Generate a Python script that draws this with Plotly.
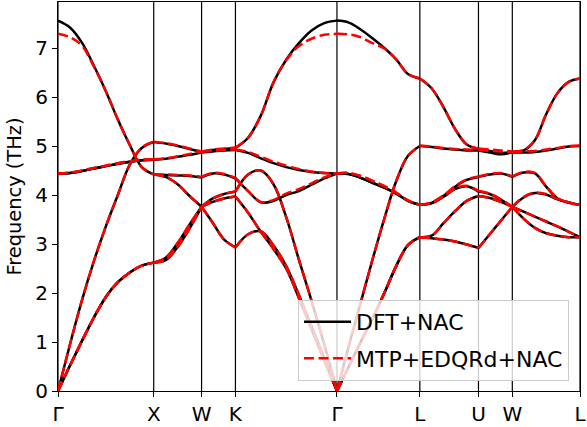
import numpy as np
import plotly.graph_objects as go

# ---------------- path description ----------------
tick_labels = ["Γ", "X", "W", "K", "Γ", "L", "U", "W", "L"]
seg_len = [1.0, 0.5, 0.35355, 1.06066, 0.86603, 0.61237, 0.35355, 0.70711]

# ---------------- DFT+NAC bands (THz), per segment, each band sampled evenly ----------------
GX_dft = [
    [0, 0.52, 1.02, 1.50, 1.92, 2.22, 2.42, 2.56, 2.62],
    [0, 0.52, 1.02, 1.50, 1.92, 2.22, 2.42, 2.56, 2.62],
    [0, 0.95, 1.85, 2.65, 3.36, 4.00, 4.62, 4.96, 5.08],
    [4.44, 4.45, 4.49, 4.54, 4.59, 4.64, 4.68, 4.71, 4.72],
    [4.44, 4.45, 4.49, 4.54, 4.59, 4.64, 4.68, 4.71, 4.72],
    [7.56, 7.42, 7.11, 6.64, 6.12, 5.54, 5.02, 4.57, 4.42],
]
XW_dft = [
    [2.62, 2.72, 3.02, 3.40, 3.76],
    [2.62, 2.67, 2.94, 3.32, 3.76],
    [4.42, 4.37, 4.22, 3.98, 3.76],
    [4.42, 4.41, 4.40, 4.39, 4.36],
    [4.72, 4.74, 4.78, 4.82, 4.87],
    [5.08, 5.05, 5.00, 4.94, 4.88],
]
WK_dft = [
    [4.88, 4.92, 4.94, 4.96],
    [4.87, 4.89, 4.91, 4.92],
    [4.36, 4.44, 4.42, 4.34],
    [3.76, 3.93, 4.02, 4.07],
    [3.76, 3.86, 3.93, 3.97],
    [3.76, 3.43, 3.09, 2.93],
]
KG_dft = [
    [4.96, 5.17, 5.62, 6.30, 6.76, 7.10, 7.36, 7.51, 7.56],
    [4.92, 4.86, 4.75, 4.65, 4.57, 4.51, 4.47, 4.45, 4.44],
    [4.34, 4.08, 3.85, 3.88, 4.00, 4.08, 4.21, 4.34, 4.44],
    [4.07, 4.42, 4.50, 4.22, 3.55, 2.68, 1.84, 0.95, 0],
    [3.97, 3.64, 3.25, 2.90, 2.50, 1.90, 1.26, 0.62, 0],
    [2.93, 3.20, 3.26, 2.97, 2.55, 1.96, 1.32, 0.67, 0],
]
GL_dft = [
    [7.56, 7.52, 7.38, 7.20, 7.00, 6.77, 6.47, 6.38],
    [4.44, 4.43, 4.35, 4.25, 4.15, 4.03, 3.88, 3.80],
    [4.44, 4.43, 4.35, 4.25, 4.15, 4.03, 3.88, 3.80],
    [0, 0.92, 1.80, 2.68, 3.52, 4.28, 4.80, 5.00],
    [0, 0.50, 1.00, 1.48, 2.00, 2.55, 2.98, 3.14],
    [0, 0.50, 1.00, 1.48, 2.00, 2.55, 2.98, 3.14],
]
LU_dft = [
    [6.38, 6.18, 5.80, 5.35, 5.03, 4.94],
    [5.00, 4.98, 4.95, 4.93, 4.91, 4.91],
    [3.80, 3.84, 3.98, 4.17, 4.31, 4.37],
    [3.80, 3.83, 3.96, 4.12, 4.18, 4.07],
    [3.14, 3.17, 3.42, 3.67, 3.88, 3.98],
    [3.14, 3.12, 3.09, 3.05, 2.99, 2.92],
]
UW_dft = [
    [4.94, 4.90, 4.86, 4.88],
    [4.91, 4.87, 4.83, 4.87],
    [4.37, 4.42, 4.44, 4.37],
    [4.07, 4.02, 3.90, 3.76],
    [3.98, 3.94, 3.86, 3.76],
    [2.92, 3.20, 3.48, 3.76],
]
WL_dft = [
    [4.88, 4.91, 5.12, 5.65, 6.08, 6.31, 6.38],
    [4.87, 4.87, 4.88, 4.91, 4.95, 4.99, 5.00],
    [4.37, 4.46, 4.44, 4.17, 3.93, 3.84, 3.80],
    [3.76, 3.95, 4.04, 4.01, 3.91, 3.85, 3.80],
    [3.76, 3.66, 3.56, 3.46, 3.36, 3.25, 3.14],
    [3.76, 3.52, 3.33, 3.22, 3.17, 3.14, 3.14],
]

# ---------------- MTP+EDQRd+NAC bands (THz) ----------------
GX_mtp = [
    [0, 0.52, 1.02, 1.50, 1.92, 2.22, 2.42, 2.56, 2.62],
    [0, 0.52, 1.02, 1.50, 1.92, 2.22, 2.42, 2.56, 2.62],
    [0, 0.95, 1.85, 2.65, 3.36, 4.00, 4.62, 4.97, 5.09],
    [4.44, 4.46, 4.50, 4.55, 4.60, 4.65, 4.69, 4.72, 4.73],
    [4.44, 4.46, 4.50, 4.55, 4.60, 4.65, 4.69, 4.72, 4.73],
    [7.29, 7.22, 7.05, 6.62, 6.12, 5.54, 5.02, 4.57, 4.42],
]
XW_mtp = [
    [2.62, 2.72, 3.02, 3.40, 3.76],
    [2.62, 2.67, 2.94, 3.32, 3.76],
    [4.42, 4.37, 4.22, 3.98, 3.76],
    [4.42, 4.42, 4.41, 4.40, 4.37],
    [4.73, 4.75, 4.79, 4.84, 4.89],
    [5.09, 5.06, 5.01, 4.95, 4.89],
]
WK_mtp = [
    [4.89, 4.93, 4.95, 4.97],
    [4.89, 4.90, 4.92, 4.93],
    [4.37, 4.45, 4.43, 4.35],
    [3.76, 3.93, 4.02, 4.07],
    [3.76, 3.86, 3.93, 3.97],
    [3.76, 3.43, 3.09, 2.93],
]
KG_mtp = [
    [4.97, 5.17, 5.62, 6.30, 6.75, 7.04, 7.19, 7.27, 7.29],
    [4.93, 4.88, 4.78, 4.68, 4.60, 4.53, 4.48, 4.45, 4.44],
    [4.35, 4.08, 3.86, 3.90, 4.03, 4.12, 4.24, 4.36, 4.44],
    [4.07, 4.42, 4.50, 4.22, 3.55, 2.68, 1.84, 0.95, 0],
    [3.97, 3.64, 3.25, 2.90, 2.50, 1.90, 1.26, 0.62, 0],
    [2.93, 3.20, 3.26, 2.97, 2.55, 1.96, 1.32, 0.67, 0],
]
GL_mtp = [
    [7.29, 7.28, 7.22, 7.10, 6.99, 6.77, 6.47, 6.38],
    [4.44, 4.45, 4.39, 4.29, 4.18, 4.05, 3.89, 3.80],
    [4.44, 4.45, 4.39, 4.29, 4.18, 4.05, 3.89, 3.80],
    [0, 0.92, 1.80, 2.68, 3.52, 4.28, 4.80, 5.00],
    [0, 0.50, 1.00, 1.48, 2.00, 2.55, 2.98, 3.14],
    [0, 0.50, 1.00, 1.48, 2.00, 2.55, 2.98, 3.14],
]
LU_mtp = [
    [6.38, 6.18, 5.80, 5.35, 5.03, 4.95],
    [5.01, 4.99, 4.96, 4.94, 4.93, 4.92],
    [3.80, 3.85, 3.99, 4.18, 4.32, 4.38],
    [3.80, 3.84, 3.97, 4.13, 4.19, 4.08],
    [3.14, 3.17, 3.42, 3.67, 3.88, 3.98],
    [3.14, 3.12, 3.09, 3.05, 2.99, 2.92],
]
UW_mtp = [
    [4.95, 4.93, 4.91, 4.89],
    [4.92, 4.90, 4.89, 4.88],
    [4.38, 4.43, 4.45, 4.38],
    [4.08, 4.03, 3.91, 3.76],
    [3.98, 3.94, 3.86, 3.76],
    [2.92, 3.20, 3.48, 3.76],
]
WL_mtp = [
    [4.89, 4.92, 5.12, 5.65, 6.08, 6.31, 6.38],
    [4.88, 4.89, 4.90, 4.93, 4.96, 5.00, 5.01],
    [4.38, 4.47, 4.45, 4.18, 3.94, 3.84, 3.80],
    [3.76, 3.96, 4.05, 4.02, 3.92, 3.85, 3.80],
    [3.76, 3.66, 3.56, 3.46, 3.36, 3.25, 3.14],
    [3.76, 3.52, 3.33, 3.22, 3.17, 3.14, 3.14],
]

dft_segments = [GX_dft, XW_dft, WK_dft, KG_dft, GL_dft, LU_dft, UW_dft, WL_dft]
mtp_segments = [GX_mtp, XW_mtp, WK_mtp, KG_mtp, GL_mtp, LU_mtp, UW_mtp, WL_mtp]

tick_pos = np.concatenate([[0.0], np.cumsum(seg_len)])


def build_xy(segments):
    xs, ys = [], []
    for i, seg in enumerate(segments):
        for band in seg:
            k = np.linspace(tick_pos[i], tick_pos[i + 1], len(band))
            xs.extend(k.tolist()); ys.extend(band)
            xs.append(None); ys.append(None)
    return xs, ys


FONT = "DejaVu Sans"
fig = go.Figure()

x_d, y_d = build_xy(dft_segments)
fig.add_trace(go.Scatter(
    x=x_d, y=y_d, mode="lines", name="DFT+NAC",
    line=dict(color="black", width=2.5, shape="spline", smoothing=1.0),
    connectgaps=False, legendgroup="dft",
))
x_m, y_m = build_xy(mtp_segments)
fig.add_trace(go.Scatter(
    x=x_m, y=y_m, mode="lines", name="MTP+EDQRd+NAC",
    line=dict(color="red", width=2.5, dash="10px,4.5px", shape="spline", smoothing=1.0),
    connectgaps=False, legendgroup="mtp",
))

for p in tick_pos:
    fig.add_shape(type="line", x0=p, x1=p, y0=0, y1=1, xref="x", yref="paper",
                  line=dict(color="black", width=1.2), layer="below")

fig.update_layout(
    width=587, height=427,
    margin=dict(l=58, r=3, t=1, b=35),
    plot_bgcolor="white", paper_bgcolor="white",
    font=dict(family=FONT, size=20, color="black"),
    showlegend=True,
    legend=dict(
        x=0.979, y=0.026, xanchor="right", yanchor="bottom",
        bgcolor="rgba(255,255,255,0.8)", bordercolor="#cccccc", borderwidth=1,
        font=dict(family=FONT, size=22, color="black"),
        tracegroupgap=5, itemwidth=47,
    ),
    xaxis=dict(
        range=[0, tick_pos[-1]], tickvals=tick_pos.tolist(), ticktext=tick_labels,
        ticks="outside", ticklen=5, tickwidth=1.1, tickcolor="black",
        showline=True, mirror=True, linecolor="black", linewidth=1.1,
        showgrid=False, zeroline=False, ticklabeloverflow="allow",
        tickfont=dict(family=FONT, size=20),
    ),
    yaxis=dict(
        range=[0, 7.94], tickmode="linear", tick0=0, dtick=1,
        ticks="outside", ticklen=5, tickwidth=1.1, tickcolor="black",
        showline=True, mirror=True, linecolor="black", linewidth=1.1,
        showgrid=False, zeroline=False,
        tickfont=dict(family=FONT, size=20),
        title=dict(text="Frequency (THz)", font=dict(family=FONT, size=19.4), standoff=8),
    ),
)

fig.write_html("out.html")
